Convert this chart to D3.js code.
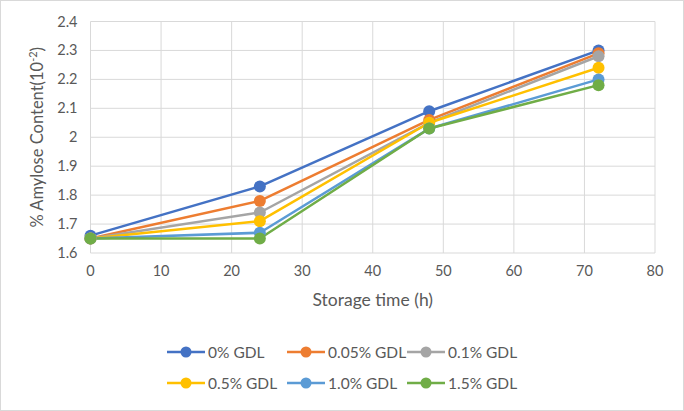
<!DOCTYPE html>
<html><head><meta charset="utf-8">
<script src="https://cdn.jsdelivr.net/npm/d3@7"></script>
<style>body{margin:0;background:#fff;}svg{display:block;font-family:Lato,"Open Sans",sans-serif;}</style>
</head><body><svg id="c" width="684" height="411"></svg>
<script>
const hours = [0, 24, 48, 72];
const seriesNames = ["0% GDL", "0.05% GDL", "0.1% GDL", "0.5% GDL", "1.0% GDL", "1.5% GDL"];
const s0 = [1.66, 1.83, 2.09, 2.30];
const s005 = [1.65, 1.78, 2.06, 2.29];
const s01 = [1.65, 1.74, 2.05, 2.28];
const s05 = [1.65, 1.71, 2.05, 2.24];
const s10 = [1.65, 1.67, 2.03, 2.20];
const s15 = [1.65, 1.65, 2.03, 2.18];
const xTicks = [0, 10, 20, 30, 40, 50, 60, 70, 80];
const yTicks = [1.6, 1.7, 1.8, 1.9, 2, 2.1, 2.2, 2.3, 2.4];
const colors = ["#4472C4", "#ED7D31", "#A5A5A5", "#FFC000", "#5B9BD5", "#70AD47"];
const allSeries = [s0, s005, s01, s05, s10, s15];

const svg = d3.select("#c");
svg.append("rect").attr("x",0.5).attr("y",0.5).attr("width",683).attr("height",410)
  .attr("fill","#fff").attr("stroke","#d9d9d9");

const x = d3.scaleLinear().domain([0,80]).range([90.5,655]);
const y = d3.scaleLinear().domain([1.6,2.4]).range([253,21.5]);

const g = svg.append("g");
g.selectAll(".vg").data(xTicks).join("line")
  .attr("x1",d=>x(d)).attr("x2",d=>x(d)).attr("y1",y(2.4)).attr("y2",y(1.6))
  .attr("stroke","#d9d9d9").attr("stroke-width",1);
g.selectAll(".hg").data(yTicks).join("line")
  .attr("x1",x(0)).attr("x2",x(80)).attr("y1",d=>y(d)).attr("y2",d=>y(d))
  .attr("stroke","#d9d9d9").attr("stroke-width",1);

g.selectAll(".xt").data(xTicks).join("text")
  .attr("x",d=>x(d)).attr("y",y(1.6)+23).attr("text-anchor","middle")
  .attr("font-size",14.5).attr("fill","#595959").text(d=>d);
g.selectAll(".yt").data(yTicks).join("text")
  .attr("x",x(0)-13).attr("y",d=>y(d)+5).attr("text-anchor","end")
  .attr("font-size",14.5).attr("fill","#595959").text(d=>d);

svg.append("text").attr("x",(x(0)+x(80))/2).attr("y",306).attr("text-anchor","middle")
  .attr("font-size",17.5).attr("fill","#595959").text("Storage time (h)");
const yl = svg.append("text").attr("transform",`translate(43,${(y(1.6)+y(2.4))/2}) rotate(-90)`)
  .attr("text-anchor","middle").attr("font-size",16.5).attr("fill","#595959");
yl.append("tspan").text("% Amylose Content(10");
yl.append("tspan").attr("font-size",11).attr("dy",-6).text("-2");
yl.append("tspan").attr("dy",6).text(")");

const line = d3.line().x((d,i)=>x(hours[i])).y(d=>y(d));
allSeries.forEach((s,k)=>{
  svg.append("path").datum(s).attr("d",line).attr("fill","none")
    .attr("stroke",colors[k]).attr("stroke-width",2.5).attr("stroke-linejoin","round");
});
allSeries.forEach((s,k)=>{
  svg.append("g").selectAll("circle").data(s).join("circle")
    .attr("cx",(d,i)=>x(hours[i])).attr("cy",d=>y(d)).attr("r",6).attr("fill",colors[k]);
});

const legX = [167, 287, 407], legY = [352, 383];
seriesNames.forEach((n,k)=>{
  const lx = legX[k%3], ly = legY[Math.floor(k/3)];
  const lg = svg.append("g");
  lg.append("line").attr("x1",lx).attr("x2",lx+38).attr("y1",ly).attr("y2",ly)
    .attr("stroke",colors[k]).attr("stroke-width",2.5);
  lg.append("circle").attr("cx",lx+19).attr("cy",ly).attr("r",5.5).attr("fill",colors[k]);
  lg.append("text").attr("x",lx+41).attr("y",ly+5.5).attr("font-size",15.5)
    .attr("fill","#595959").text(n);
});
</script></body></html>
